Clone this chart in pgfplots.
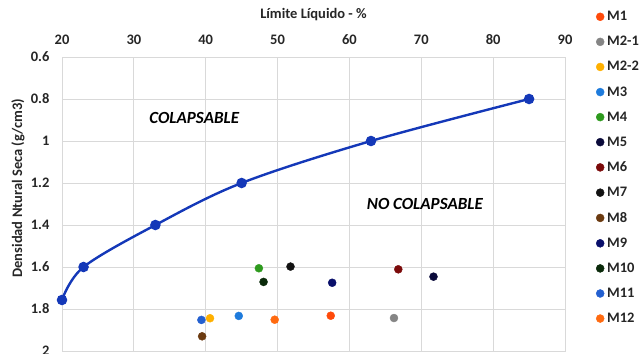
\documentclass[border=0pt]{standalone}
\usepackage{fontspec}
\setmainfont{Carlito}
\usepackage{pgfplots}
\pgfplotsset{compat=1.18}
\definecolor{cLine}{HTML}{1438B8}
\definecolor{cM1}{HTML}{FF4A0A}
\definecolor{cM2a}{HTML}{858585}
\definecolor{cM2b}{HTML}{FFB000}
\definecolor{cM3}{HTML}{1E7BDC}
\definecolor{cM4}{HTML}{2E9A1E}
\definecolor{cM5}{HTML}{0A0A3A}
\definecolor{cM6}{HTML}{7B0A0A}
\definecolor{cM7}{HTML}{121212}
\definecolor{cM8}{HTML}{6B3A10}
\definecolor{cM9}{HTML}{0A106B}
\definecolor{cM10}{HTML}{0A2A0A}
\definecolor{cM11}{HTML}{2460D0}
\definecolor{cM12}{HTML}{FF6A10}
\definecolor{cGrid}{HTML}{D9D9D9}
\begin{document}
\begin{tikzpicture}
\begin{axis}[
  scale only axis, width=503pt, height=294pt,
  xmin=20, xmax=90, ymin=0.6, ymax=2,
  y dir=reverse,
  xtick={20,30,...,90},
  ytick={0.6,0.8,1,1.2,1.4,1.6,1.8,2},
  yticklabels={0.6,0.8,1,1.2,1.4,1.6,1.8,2},
  xticklabel pos=upper,
  grid=major,
  major grid style={cGrid, line width=0.8pt},
  axis line style={cGrid, line width=0.8pt},
  tick style={draw=none},
  /pgf/number format/assume math mode=true,
  ticklabel style={font=\fontsize{14.5}{16}\selectfont\bfseries, text=black!85},
  yticklabel style={xshift=-9pt},
  xticklabel style={yshift=9pt},
  xlabel={Límite Líquido - \%},
  ylabel={Densidad Ntural Seca (g/cm3)},
  xlabel style={at={(axis description cs:0.5,1.143)}, anchor=center, font=\fontsize{14.5}{16}\selectfont\bfseries, text=black!85},
  ylabel style={at={(axis description cs:-0.0875,0.554)}, anchor=center, rotate=0, font=\fontsize{14.5}{16}\selectfont\bfseries, text=black!85},
  legend style={at={(axis description cs:1.0616,1.156)}, anchor=north west, draw=none, fill=none, inner sep=0pt,
    row sep=14.1pt, font=\fontsize{14.5}{16}\selectfont\bfseries, text=black!85, nodes={inner xsep=3pt, inner ysep=0pt}},
  legend cell align=left,
  legend image code/.code={\draw[#1] plot coordinates {(0pt,0pt)};},
  clip=false,
]
\addplot[cLine, line width=2.4pt, smooth, tension=0.55, mark=*, mark size=4pt, forget plot]
  coordinates {(20,1.757) (23,1.6) (33,1.4) (45,1.2) (63,1.0) (85,0.8)};
\addplot[only marks, mark=*, mark size=4pt, color=cM1]  coordinates {(57.4,1.832)};
\addlegendentry{M1}
\addplot[only marks, mark=*, mark size=4pt, color=cM2a] coordinates {(66.2,1.843)};
\addlegendentry{M2-1}
\addplot[only marks, mark=*, mark size=4pt, color=cM2b] coordinates {(40.6,1.844)};
\addlegendentry{M2-2}
\addplot[only marks, mark=*, mark size=4pt, color=cM3]  coordinates {(44.6,1.833)};
\addlegendentry{M3}
\addplot[only marks, mark=*, mark size=4pt, color=cM4]  coordinates {(47.4,1.606)};
\addlegendentry{M4}
\addplot[only marks, mark=*, mark size=4pt, color=cM5]  coordinates {(71.7,1.646)};
\addlegendentry{M5}
\addplot[only marks, mark=*, mark size=4pt, color=cM6]  coordinates {(66.8,1.611)};
\addlegendentry{M6}
\addplot[only marks, mark=*, mark size=4pt, color=cM7]  coordinates {(51.8,1.598)};
\addlegendentry{M7}
\addplot[only marks, mark=*, mark size=4pt, color=cM8]  coordinates {(39.5,1.93)};
\addlegendentry{M8}
\addplot[only marks, mark=*, mark size=4pt, color=cM9]  coordinates {(57.6,1.675)};
\addlegendentry{M9}
\addplot[only marks, mark=*, mark size=4pt, color=cM10] coordinates {(48.05,1.671)};
\addlegendentry{M10}
\addplot[only marks, mark=*, mark size=4pt, color=cM11] coordinates {(39.4,1.852)};
\addlegendentry{M11}
\addplot[only marks, mark=*, mark size=4pt, color=cM12] coordinates {(49.6,1.851)};
\addlegendentry{M12}
\node[font=\fontsize{17}{19}\selectfont\bfseries\itshape] at (axis cs:38.4,0.89) {COLAPSABLE};
\node[font=\fontsize{17}{19}\selectfont\bfseries\itshape] at (axis cs:70.5,1.30) {NO COLAPSABLE};
\coordinate (BL) at (axis cs:20,2);
\coordinate (TR) at (axis cs:90,0.6);
\end{axis}
\pgfresetboundingbox
\path[use as bounding box] ([shift={(-62pt,-2pt)}]BL) rectangle ([shift={(76pt,57pt)}]TR);
\end{tikzpicture}
\end{document}
